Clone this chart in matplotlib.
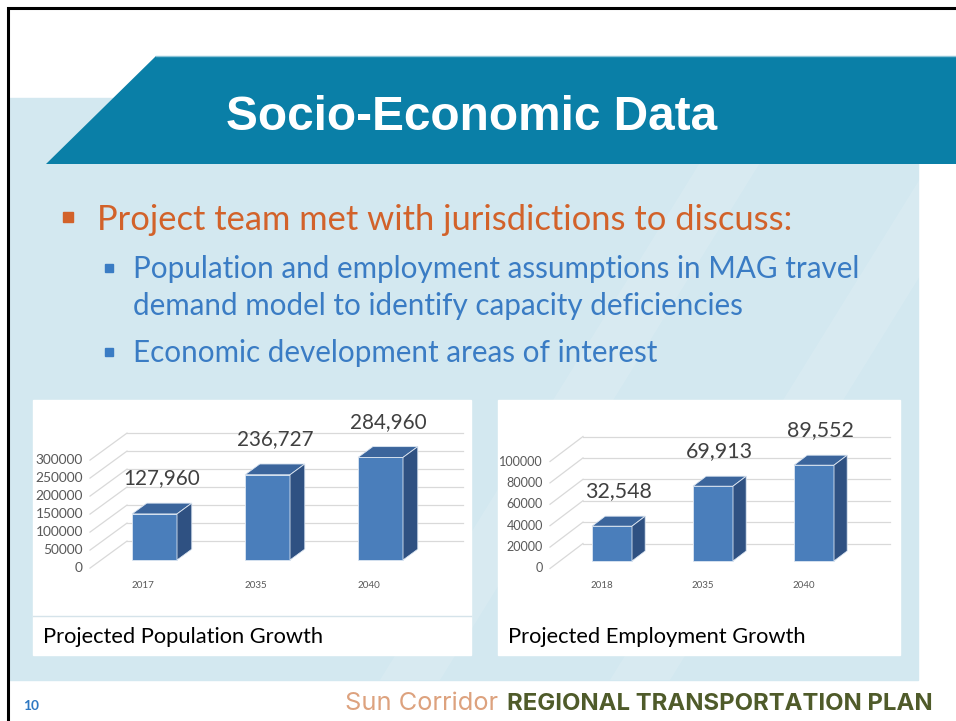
import matplotlib
matplotlib.use("Agg")
import matplotlib.pyplot as plt
from matplotlib.patches import Polygon, Rectangle

# ---------------- data ----------------
pop_years = ["2017", "2035", "2040"]
pop_values = [127960, 236727, 284960]
pop_ticks = [0, 50000, 100000, 150000, 200000, 250000, 300000]

emp_years = ["2018", "2035", "2040"]
emp_values = [32548, 69913, 89552]
emp_ticks = [0, 20000, 40000, 60000, 80000, 100000]

title = "Socio-Economic Data"
bullet_main = "Project team met with jurisdictions to discuss:"
bullet_sub1 = ["Population and employment assumptions in MAG travel",
               "demand model to identify capacity deficiencies"]
bullet_sub2 = "Economic development areas of interest"
pop_caption = "Projected Population Growth"
emp_caption = "Projected Employment Growth"
page_no = "10"
footer_a = "Sun Corridor"
footer_b = "REGIONAL TRANSPORTATION PLAN"

# ---------------- figure ----------------
W, H = 956, 721
fig = plt.figure(figsize=(W / 100, H / 100), dpi=100)
fig.patch.set_facecolor("white")
ax = fig.add_axes([0, 0, 1, 1])
ax.set_xlim(0, W)
ax.set_ylim(H, 0)
ax.axis("off")
renderer = fig.canvas.get_renderer()

BODY = ["Lato", "DejaVu Sans"]


def fit(t, width):
    bb = t.get_window_extent(renderer)
    t.set_fontsize(t.get_fontsize() * width / bb.width)
    return t.get_fontsize()


# background panel
ax.add_patch(Rectangle((8, 98), 918 - 8, 680 - 98, color="#D3E8F0", zorder=0))
# faint diagonal light bands
for x0 in (380, 610):
    ax.add_patch(Polygon([(x0, 680), (x0 + 60, 680), (x0 + 420, 98), (x0 + 360, 98)],
                         closed=True, color="white", alpha=0.12, lw=0, zorder=0.5))

# banner
ax.add_patch(Polygon([(156, 56), (956, 56), (956, 164), (46, 164)], closed=True,
                     color="#0A7FA7", lw=0, zorder=1))
ax.plot([156, 956], [56, 56], color="#8CC4D8", lw=1, zorder=1.1)
t = ax.text(471.5, 130, title, ha="center", va="baseline", color="white",
            fontweight="bold", family=["Liberation Sans", "DejaVu Sans"], fontsize=33, zorder=2)
fit(t, 491)

# border
ax.plot([8, 8, 956], [721, 8, 8], color="black", lw=2.2, zorder=5, solid_joinstyle="miter")

# bullets
ORANGE = "#D2622A"
BLUE = "#3A7CC4"
ax.add_patch(Rectangle((63, 212), 10, 10, color=ORANGE, zorder=2))
t = ax.text(97, 230, bullet_main, ha="left", va="baseline", color=ORANGE, family=BODY,
            fontsize=24, zorder=2)
fit(t, 693)
ax.add_patch(Rectangle((105, 263.5), 8, 8, color=BLUE, zorder=2))
ax.add_patch(Rectangle((105, 347.5), 8, 8, color=BLUE, zorder=2))
t = ax.text(133, 278, bullet_sub1[0], ha="left", va="baseline", color=BLUE, family=BODY,
            fontsize=22, zorder=2)
fs_sub = fit(t, 724)
ax.text(133, 315, bullet_sub1[1], ha="left", va="baseline", color=BLUE, family=BODY,
        fontsize=fs_sub, zorder=2)
ax.text(133, 362, bullet_sub2, ha="left", va="baseline", color=BLUE, family=BODY,
        fontsize=fs_sub, zorder=2)

# chart boxes
ax.add_patch(Rectangle((33, 400), 438, 255, color="white", zorder=2))
ax.plot([33, 471], [616, 616], color="#D5E3EA", lw=1, zorder=2.1)
ax.add_patch(Rectangle((498, 400), 402, 255, color="white", zorder=2))
t = ax.text(43, 643, pop_caption, ha="left", va="baseline", color="black", family=BODY,
            fontsize=14, zorder=3)
fit(t, 282)
t = ax.text(508, 643, emp_caption, ha="left", va="baseline", color="black", family=BODY,
            fontsize=14, zorder=3)
fit(t, 300)

# footer
t = ax.text(23, 710, page_no, ha="left", va="baseline", color="#2E78C2", fontweight="bold",
            family=BODY, fontsize=10, zorder=3)
fit(t, 16)
t = ax.text(933, 710, footer_b, ha="right", va="baseline", color="#4F5B2A", fontweight="bold",
            family=["Inter", "DejaVu Sans"], fontsize=14, zorder=3)
fit(t, 424)
t = ax.text(498, 710, footer_a, ha="right", va="baseline", color="#DDA27E",
            family=["Inter", "DejaVu Sans"], fontsize=14, zorder=3)
fit(t, 153)

# ---------------- 3D-style column charts ----------------
FRONT = "#4A7EBB"
TOP = "#3B659C"
SIDE = "#2F5182"
EDGE = "#DCE6F2"
GRID = "#D9D9D9"
TICKC = "#595959"
LABC = "#404040"


def chart(box, c0, step, zero_px, ppu, D, back_l_px, back_r_px, bar_w_px,
          years, values, ticks, lbl_w, tick_w, year_w):
    L, T, R, B = box
    cax = fig.add_axes([L / W, 1 - B / H, (R - L) / W, (B - T) / H], zorder=10)
    cax.set_xlim((L - c0) / step, (R - c0) / step)
    cax.set_ylim((zero_px - B) / ppu, (zero_px - T) / ppu)
    cax.axis("off")
    cax.patch.set_alpha(0)
    dx = D[0] / step
    dy = D[1] / ppu
    bl = (back_l_px - c0) / step
    br = (back_r_px - c0) / step
    texts = []
    for tv in ticks:
        yb = tv + 0.7 * dy
        cax.plot([bl, br], [yb, yb], color=GRID, lw=0.9, zorder=1)
        cax.plot([bl - dx, bl], [yb - dy, yb], color=GRID, lw=0.9, zorder=1)
        texts.append(cax.text(bl - dx - 7 / step, tv - 0.3 * dy, f"{tv}", ha="right",
                              va="center", color=TICKC, family=BODY, fontsize=7))
    widest = max(texts, key=lambda z: len(z.get_text()))
    fs = fit(widest, tick_w)
    for z in texts:
        z.set_fontsize(fs)

    w = bar_w_px / step
    xs = list(range(len(values)))
    cax.bar(xs, values, width=w, color=FRONT, edgecolor=EDGE, lw=0.6, zorder=3)
    lab_fs = None
    yr_fs = None
    for i, v in zip(xs, values):
        top = Polygon([(i - w / 2, v), (i + w / 2, v), (i + w / 2 + 0.4 * dx, v + 0.4 * dy),
                       (i - w / 2 + 0.4 * dx, v + 0.4 * dy)], closed=True,
                      facecolor=TOP, edgecolor=EDGE, lw=0.6, zorder=3)
        side = Polygon([(i + w / 2, 0), (i + w / 2 + 0.4 * dx, 0.4 * dy),
                        (i + w / 2 + 0.4 * dx, v + 0.4 * dy), (i + w / 2, v)], closed=True,
                       facecolor=SIDE, edgecolor=EDGE, lw=0.6, zorder=3)
        cax.add_patch(top)
        cax.add_patch(side)
        lt = cax.text(i + 0.2 * dx, v + 0.4 * dy + 25 / ppu, f"{v:,}", ha="center",
                      va="center", color=LABC, family=BODY, fontsize=lab_fs or 15, zorder=4)
        if lab_fs is None:
            lab_fs = fit(lt, lbl_w)
        yt = cax.text(i - 0.3 * dx, -0.3 * dy - 17 / ppu, years[i], ha="center",
                      va="center", color=TICKC, family=BODY, fontsize=yr_fs or 7, zorder=4)
        if yr_fs is None:
            yr_fs = fit(yt, year_w)
    return cax


chart((33, 400, 471, 616), 154.5, 113.0, 560, 0.36 / 1000, (37, 27), 127, 463, 45,
      pop_years, pop_values, pop_ticks, 77, 47, 23)
chart((498, 400, 900, 616), 612, 101.0, 561, 1.07 / 1000, (33, 25), 583, 890, 40,
      emp_years, emp_values, emp_ticks, 67, 43, 23)

fig.savefig("out.png", dpi=100, facecolor="white")
